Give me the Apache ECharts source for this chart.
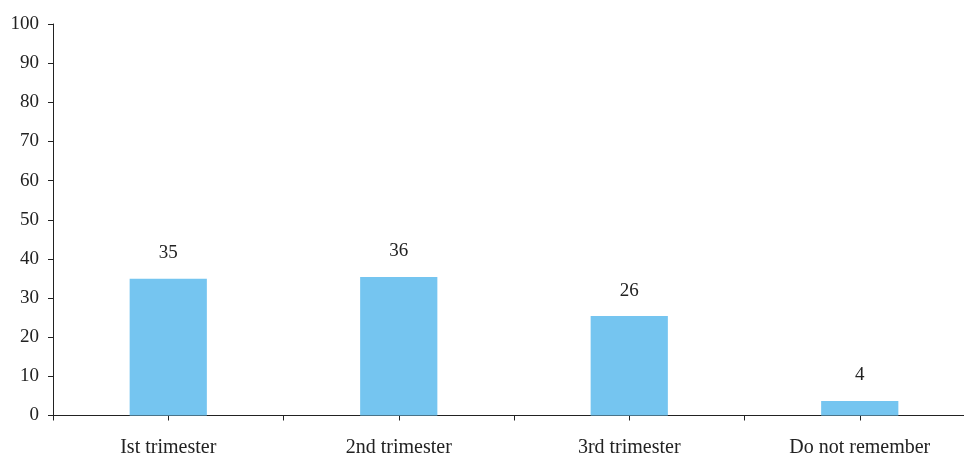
<!DOCTYPE html>
<html>
<head>
<meta charset="utf-8">
<script src="https://cdn.jsdelivr.net/npm/echarts@6/dist/echarts.min.js"></script>
<style>html,body{margin:0;padding:0;background:#fff;overflow:hidden}#c{width:976px;height:455px}</style>
</head>
<body>
<div id="c"></div>
<script>
const categories = ['Ist trimester', '2nd trimester', '3rd trimester', 'Do not remember'];
const values = [34.9, 35.4, 25.4, 3.7];
const valueLabels = ['35', '36', '26', '4'];
const yTicks = { min: 0, max: 100, interval: 10 };

const font = 'Liberation Serif';
const gridBox = { left: 53, right: 1, top: 24, bottom: 39.5, outerBoundsMode: 'none', containLabel: false };
const chart = echarts.init(document.getElementById('c'));
chart.setOption({
  animation: false,
  grid: [Object.assign({}, gridBox), Object.assign({}, gridBox)],
  xAxis: [{
    type: 'category', data: categories, boundaryGap: true, gridIndex: 0,
    axisLine: { show: true, lineStyle: { color: '#222', width: 1 } },
    axisTick: { show: true, alignWithLabel: false, length: 5, lineStyle: { color: '#222' } },
    axisLabel: { color: '#222', fontFamily: font, fontSize: 20, margin: 22 }
  }, {
    type: 'category', data: categories, boundaryGap: true, gridIndex: 1,
    axisLine: { show: false },
    axisTick: { show: true, alignWithLabel: true, length: 5, lineStyle: { color: '#222' } },
    axisLabel: { show: false }
  }],
  yAxis: [{
    type: 'value', min: yTicks.min, max: yTicks.max, interval: yTicks.interval, gridIndex: 0,
    splitLine: { show: false },
    axisLine: { show: true, lineStyle: { color: '#222', width: 1 } },
    axisTick: { show: true, length: 5, lineStyle: { color: '#222' } },
    axisLabel: { color: '#222', fontFamily: font, fontSize: 19, margin: 14 }
  }, {
    type: 'value', min: yTicks.min, max: yTicks.max, gridIndex: 1, show: false
  }],
  series: [{
    type: 'bar', data: values, xAxisIndex: 0, yAxisIndex: 0, barWidth: '33.5%',
    itemStyle: { color: '#75C5F0' },
    label: {
      show: true, position: 'top', distance: 16,
      color: '#222', fontFamily: font, fontSize: 19,
      formatter: p => valueLabels[p.dataIndex]
    }
  }]
});
</script>
</body>
</html>
